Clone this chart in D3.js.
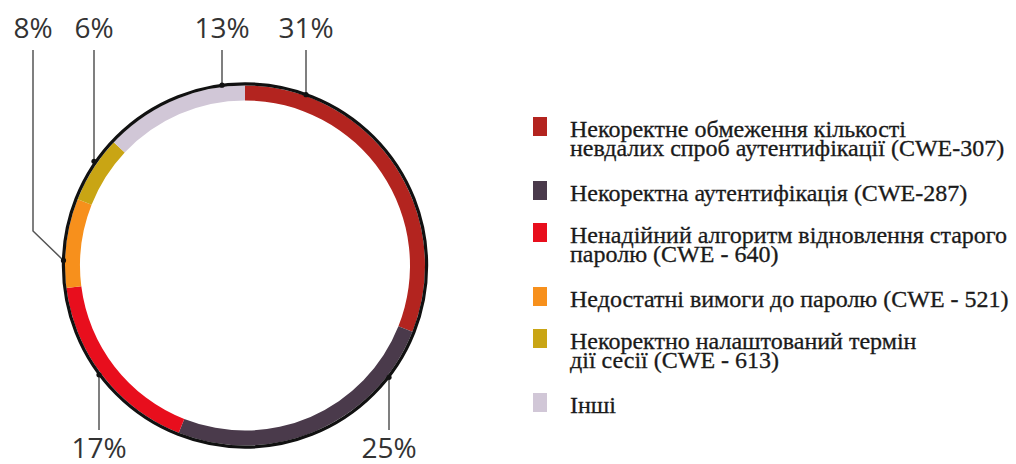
<!DOCTYPE html>
<html>
<head>
<meta charset="utf-8">
<script src="https://cdn.jsdelivr.net/npm/d3@7/dist/d3.min.js"></script>
</head>
<body style="margin:0">
<svg id="chart" width="1016" height="464"></svg>
<script>
// Share of authentication weaknesses, in percent
const categories = [
  ["Некоректне обмеження кількості", "невдалих спроб аутентифікації (CWE-307)"],
  ["Некоректна аутентифікація (CWE-287)"],
  ["Ненадійний алгоритм відновлення старого", "паролю (CWE - 640)"],
  ["Недостатні вимоги до паролю (CWE - 521)"],
  ["Некоректно налаштований термін", "дії сесії (CWE - 613)"],
  ["Інші"]
];
const values = [31, 25, 17, 8, 6, 13];
const valueLabels = ["31%", "25%", "17%", "8%", "6%", "13%"];
const colors = ["#b3241f", "#4a3a4b", "#e80e1d", "#f7901c", "#c9a514", "#d1c7d7"];

// Callout placement for each value label (angle on the ring in degrees, clockwise from top)
const callouts = [
  { angle: 19.8,   labelX: 306, labelY: 38,  side: "top" },
  { angle: 128.0,  labelX: 389, labelY: 458, side: "bottom" },
  { angle: -127.0, labelX: 99,  labelY: 458, side: "bottom" },
  { angle: -88.4,  labelX: 33,  labelY: 38,  side: "top", elbowY: 231 },
  { angle: -55.0,  labelX: 94,  labelY: 38,  side: "top" },
  { angle: -6.9,   labelX: 222, labelY: 38,  side: "top" }
];

const svg = d3.select("#chart");
const cx = 245, cy = 265.5;
const rOuter = 180, rInner = 165, rRim = 181.6;

const pie = d3.pie().sort(null).value(d => d).startAngle(0).endAngle(2 * Math.PI);
const arc = d3.arc().innerRadius(rInner).outerRadius(rOuter);

const ring = svg.append("g").attr("transform", `translate(${cx},${cy})`);

ring.selectAll("path.seg")
  .data(pie(values))
  .join("path")
  .attr("class", "seg")
  .attr("d", arc)
  .attr("fill", (d, i) => colors[i]);

// dark rim around the ring
ring.append("circle")
  .attr("r", rRim)
  .attr("fill", "none")
  .attr("stroke", "#111")
  .attr("stroke-width", 3.2);

// Callout lines and value labels
const toXY = (deg, r) => {
  const a = deg * Math.PI / 180;
  return [cx + r * Math.sin(a), cy - r * Math.cos(a)];
};

const callG = svg.append("g");
callouts.forEach((c, i) => {
  const [ax, ay] = toXY(c.angle, rRim);
  let pts;
  if (c.side === "top") {
    const topY = 50;
    pts = c.elbowY != null
      ? [[c.labelX, topY], [c.labelX, c.elbowY], [ax, ay]]
      : [[c.labelX, topY], [c.labelX, ay]];
  } else {
    pts = [[c.labelX, ay], [c.labelX, 430]];
  }
  callG.append("path")
    .attr("d", d3.line()(pts))
    .attr("fill", "none")
    .attr("stroke", "#555")
    .attr("stroke-width", 1.5);
  callG.append("circle")
    .attr("cx", c.elbowY != null ? ax : c.labelX)
    .attr("cy", ay)
    .attr("r", 2.6)
    .attr("fill", "#111");
  callG.append("text")
    .attr("x", c.labelX)
    .attr("y", c.labelY)
    .attr("text-anchor", "middle")
    .style("font-family", '"Open Sans"')
    .style("font-weight", "500")
    .style("font-size", "28px")
    .style("fill", "#333")
    .text(valueLabels[i]);
});

// Legend: one swatch per category, each text line is its own element
const legend = svg.append("g");
const legendX = 533, textX = 570;
const lineStep = 19, rowStep = 42, extraLine = 22;
let baseline = 137;
categories.forEach((lines, i) => {
  legend.append("rect")
    .attr("x", legendX)
    .attr("y", baseline - 20)
    .attr("width", 14)
    .attr("height", 19)
    .attr("fill", colors[i]);
  lines.forEach((ln, j) => {
    legend.append("text")
      .attr("x", textX)
      .attr("y", baseline + j * lineStep)
      .style("font-family", '"Liberation Serif"')
      .style("font-size", "24px")
      .style("fill", "#1a1a1a")
      .style("stroke", "#1a1a1a")
      .style("stroke-width", "0.3px")
      .text(ln);
  });
  baseline += rowStep + (lines.length - 1) * extraLine;
});
</script>
</body>
</html>
